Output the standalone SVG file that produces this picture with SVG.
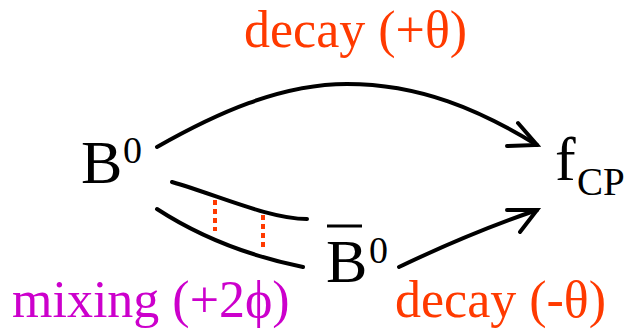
<svg xmlns="http://www.w3.org/2000/svg" width="633" height="331" viewBox="0 0 633 331">
<style>
.t{font-family:'Liberation Serif',Tinos,'Times New Roman',Times,'Nimbus Roman','Nimbus Roman No9 L',FreeSerif,'DejaVu Serif','Noto Serif',serif}
.big{font-size:62px;fill:#000}
.sup{font-size:38px;fill:#000}
.sub{font-size:39px;fill:#000}
.dec{font-size:52px;fill:#ff3a00}
.mix{font-size:52px;fill:#cc00cc}
.ln{fill:none;stroke:#000;stroke-width:4;stroke-linecap:round}
.dot{fill:none;stroke:#ff3a00;stroke-width:4;stroke-dasharray:5 4}
</style>
<rect width="633" height="331" fill="#fff"/>
<g id="B0" class="t"><text class="big" x="81" y="183">B</text><text class="sup" x="123" y="163">0</text></g>
<g id="fCP" class="t"><text class="big" x="555" y="180">f</text><text class="sub" x="577" y="195">CP</text></g>
<g id="B0bar" class="t"><line x1="327" y1="226" x2="362" y2="226" stroke="#000" stroke-width="3"/><text class="big" x="326" y="282">B</text><text class="sup" x="369" y="263">0</text></g>
<g id="labels" class="t">
<text class="dec" x="244" y="47">decay (+θ)</text>
<text class="mix" x="12" y="317">mixing (+2ϕ)</text>
<text class="dec" x="395" y="317">decay (-θ)</text>
</g>
<g id="connectors">
<path class="ln" d="M157,147 C215,114 280,84 347,84 C420,84 480,110 537,145"/>
<path class="ln" d="M518,123 L537,145 L507,146"/>
<path class="ln" d="M399,267 Q470,233 537,210"/>
<path class="ln" d="M507,210 L537,210 L520,232"/>
<path class="ln" d="M172,182 C220,196 270,219 307,219"/>
<path class="ln" d="M157,209 Q220,250 303,267"/>
<line class="dot" x1="215" y1="200" x2="215" y2="231"/>
<line class="dot" x1="263" y1="215" x2="263" y2="247"/>
</g>
</svg>
